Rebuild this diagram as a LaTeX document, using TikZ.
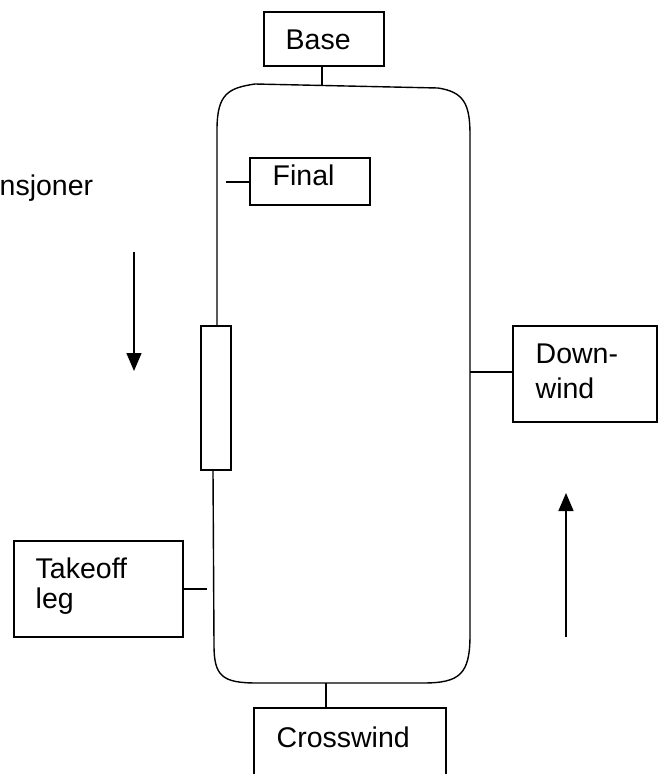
\documentclass[tikz,border=0pt]{standalone}
\usepackage{fontspec}
\setmainfont{Liberation Sans}
\usetikzlibrary{arrows.meta}
\begin{document}
\begin{tikzpicture}[x=1pt,y=-1pt,line width=1.4pt,
  boxnode/.style={draw,line width=1.4pt,rectangle,inner sep=0pt},
  txt/.style={anchor=base west,inner sep=0pt,font=\fontsize{28.5}{34}\selectfont},
  arr/.style={-{Triangle[width=15pt,length=18pt]},line width=1.4pt}]
\useasboundingbox (0,0) rectangle (661,774);
\clip (0,0) rectangle (661,774);
% boxes
\node[boxnode,minimum width=120pt,minimum height=54pt] (base) at (324,39) {};
\node[boxnode,minimum width=120pt,minimum height=47pt] (final) at (310,181.5) {};
\node[boxnode,minimum width=144pt,minimum height=96pt] (down) at (585,374) {};
\node[boxnode,minimum width=169pt,minimum height=96pt] (takeoff) at (98.5,589) {};
\node[boxnode,minimum width=192pt,minimum height=100pt] (cross) at (350,758) {};
\node[boxnode,minimum width=30pt,minimum height=144pt] (rwy) at (216,398) {};
% texts
\node[txt] (basetxt) at (285,49) {Base};
\node[txt] (finaltxt) at (272,185) {Final};
\node[txt] (down1) at (535,363) {Down-};
\node[txt] (down2) at (535,398) {wind};
\node[txt] (take1) at (35,578) {Takeoff};
\node[txt] (take2) at (35,608) {leg};
\node[txt] (crosstxt) at (276,747) {Crosswind};
\node[txt] (trans) at (-1,195) {nsjoner};
% circuit loop
\coordinate (tl) at (255,84);
\coordinate (tr) at (438,88);
\coordinate (br) at (423,683);
\coordinate (bl) at (257,683);
\draw ([xshift=1pt]rwy.north) -- (217,130)
  .. controls (217,94) and (228,88) .. (tl) -- (tr)
  .. controls (464,92) and (470,104) .. (470,135) -- (470,635)
  .. controls (470,674) and (460,683) .. (br) -- (bl)
  .. controls (222,683) and (214,676) .. (214,645) -- ([xshift=-3pt]rwy.south);
% connectors
\coordinate (baseJ) at (322,85.5);
\draw (base.south -| baseJ) -- (baseJ);
\coordinate (finalJ) at (226,182);
\draw (final.west |- finalJ) -- (finalJ);
\coordinate (downJ) at (470,372);
\draw (downJ) -- (down.west |- downJ);
\coordinate (takeJ) at (207,589);
\draw (takeoff.east |- takeJ) -- (takeJ);
\coordinate (crossJ) at (326,683);
\draw (crossJ) -- (crossJ |- cross.north);
% direction arrows
\coordinate (a1s) at (134,252);
\coordinate (a1e) at (134,371);
\draw[arr] (a1s) -- (a1e);
\coordinate (a2s) at (566,637);
\coordinate (a2e) at (566,493);
\draw[arr] (a2s) -- (a2e);
\end{tikzpicture}
\end{document}
